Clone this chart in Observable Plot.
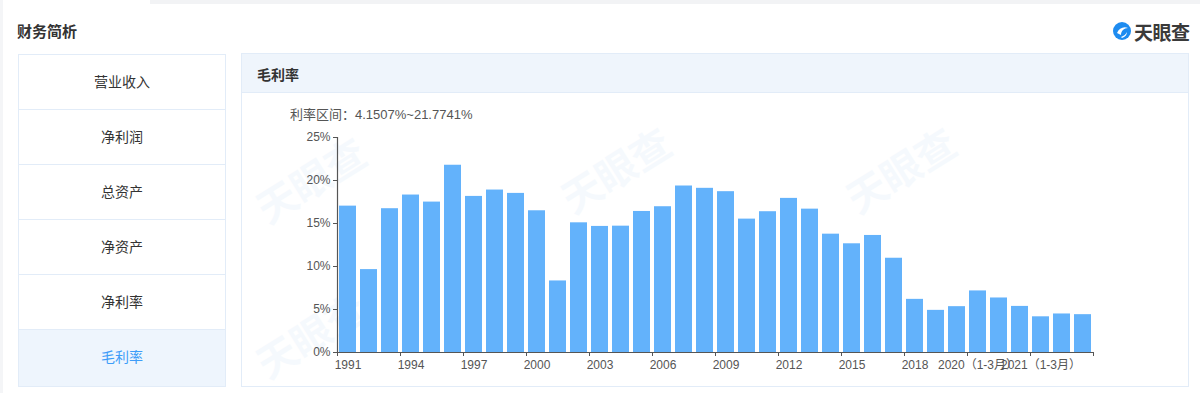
<!DOCTYPE html>
<html>
<head>
<meta charset="utf-8">
<script src="https://cdn.jsdelivr.net/npm/d3@7"></script>
<script src="https://cdn.jsdelivr.net/npm/@observablehq/plot@0.6"></script>
<style>
  html, body { margin: 0; padding: 0; background: #fff; }
  body { width: 1200px; height: 393px; position: relative; overflow: hidden;
         font-family: "Liberation Sans", "Noto Sans CJK SC", sans-serif; color: #333; }
  .abs { position: absolute; }
  .topbar { left: 150px; top: 0; width: 1050px; height: 4px; background: #f2f3f5; }
  .leftbar { left: 0; top: 0; width: 3px; height: 393px; background: #f4f5f7; }
  .title { left: 17px; top: 20px; font-size: 15px; font-weight: bold; color: #333; }
  .logo { left: 1112px; top: 19px; height: 24px; display: flex; align-items: center; }
  .logo span { font-size: 19px; font-weight: bold; color: #3a3a3a; margin-left: 2px; letter-spacing: -0.5px; }
  .menu { left: 18px; top: 54px; width: 206px; height: 331px; border: 1px solid #e2ecf8; box-sizing: content-box; }
  .item { height: 55px; line-height: 55px; text-align: center; font-size: 14px; color: #333;
          border-bottom: 1px solid #e2ecf8; box-sizing: border-box; background: #fff; }
  .item.sel { background: #eef5fd; color: #3d9cf8; border-bottom: none; height: 56px; }
  .panel { left: 241px; top: 53px; width: 946px; height: 332px; border: 1px solid #e2ecf8; }
  .phead { left: 0; top: 0; width: 946px; height: 38px; background: #eff5fc; border-bottom: 1px solid #e2ecf8; }
  .phead span { position: absolute; left: 15px; top: 10px; font-size: 14px; font-weight: bold; color: #333; }
  .sub { left: 290px; top: 104px; font-size: 13px; color: #555; }
  .chart { left: 241px; top: 92px; }
  .wm { font-size: 40px; font-weight: bold; color: #3d8fe0; opacity: 0.045; transform: rotate(-32deg); white-space: nowrap; }
</style>
</head>
<body>
<div class="abs topbar"></div>
<div class="abs leftbar"></div>
<div class="abs title">财务简析</div>
<div class="abs logo">
  <svg width="20" height="20" viewBox="0 0 20 20">
    <circle cx="10" cy="10" r="9" fill="#1e8cf0"/>
    <path d="M5 12 C7 7, 12 5, 16 7 C12 7, 9 10, 9 14 Z" fill="#fff"/>
    <path d="M9 16 C12 15, 14 13, 15 11 C15 14, 13 16, 10 17 Z" fill="#fff"/>
  </svg>
  <span>天眼查</span>
</div>
<div class="abs menu" id="menu"></div>
<div class="abs panel"><div class="abs phead"><span>毛利率</span></div></div>
<div class="abs sub" id="sub"></div>
<div class="abs wm" style="left:250px;top:150px">天眼查</div>
<div class="abs wm" style="left:555px;top:140px">天眼查</div>
<div class="abs wm" style="left:840px;top:140px">天眼查</div>
<div class="abs wm" style="left:250px;top:305px">天眼查</div>
<div class="abs chart" id="chart"></div>
<script>
const menuItems = ["营业收入", "净利润", "总资产", "净资产", "净利率", "毛利率"];
const selectedItem = "毛利率";
const rangeText = "利率区间：4.1507%~21.7741%";

const categories = [
  "1991","1992","1993","1994","1995","1996","1997","1998","1999","2000",
  "2001","2002","2003","2004","2005","2006","2007","2008","2009","2010",
  "2011","2012","2013","2014","2015","2016","2017","2018","2019","2020",
  "2020（1-3月）","2020（1-6月）","2020（1-9月）","2021（1-3月）","2021（1-6月）","2021（1-9月）"
];
const values = [
  17.02, 9.64, 16.72, 18.31, 17.49, 21.7741, 18.15, 18.89, 18.50, 16.48,
  8.32, 15.08, 14.66, 14.69, 16.40, 16.95, 19.36, 19.09, 18.70, 15.51,
  16.37, 17.92, 16.67, 13.76, 12.64, 13.61, 10.96, 6.18, 4.90, 5.33,
  7.16, 6.34, 5.36, 4.1507, 4.48, 4.40
];
const yTicks = [0, 5, 10, 15, 20, 25];
const labelEvery = 3;

// menu
const menu = document.getElementById("menu");
menuItems.forEach(m => {
  const d = document.createElement("div");
  d.className = "item" + (m === selectedItem ? " sel" : "");
  d.textContent = m;
  menu.appendChild(d);
});
document.getElementById("sub").textContent = rangeText;

const data = categories.map((c, i) => ({cat: c, value: values[i]}));
const labelCats = categories.filter((c, i) => i % labelEvery === 0);

const W = 947, H = 294, ML = 96, MR = 95, MT = 45, MB = 34;
const step = (W - ML - MR) / categories.length;
const axisColor = "#555";

const chart = Plot.plot({
  width: W, height: H,
  marginLeft: ML, marginRight: MR, marginTop: MT, marginBottom: MB,
  x: {domain: categories, paddingInner: 0.2, paddingOuter: 0.1, align: 0.5},
  y: {domain: [0, 25]},
  style: {fontFamily: '"Liberation Sans","Noto Sans CJK SC",sans-serif', fontSize: "12px", color: "#555", background: "transparent", overflow: "visible"},
  marks: [
    Plot.barY(data, {x: "cat", y: "value", fill: "#63b2fb"}),
    Plot.ruleY([0], {stroke: axisColor, strokeWidth: 1.2}),
    Plot.ruleX([categories[0]], {y1: 0, y2: 25, dx: -step / 2, stroke: axisColor, strokeWidth: 1.2}),
    Plot.axisY({ticks: yTicks, tickFormat: d => d + "%", tickSize: 4, tickPadding: 3, label: null, stroke: axisColor, fill: "#555"}),
    Plot.axisX({ticks: labelCats, tickSize: 4, tickFormat: () => "", dx: -step / 2, label: null, stroke: axisColor}),
    Plot.axisX({ticks: [categories[categories.length - 1]], tickSize: 4, tickFormat: () => "", dx: step / 2, label: null, stroke: axisColor}),
    Plot.axisX({ticks: labelCats, tickSize: 0, tickPadding: 8, label: null, fill: "#555"})
  ]
});
document.getElementById("chart").appendChild(chart);
</script>
</body>
</html>
